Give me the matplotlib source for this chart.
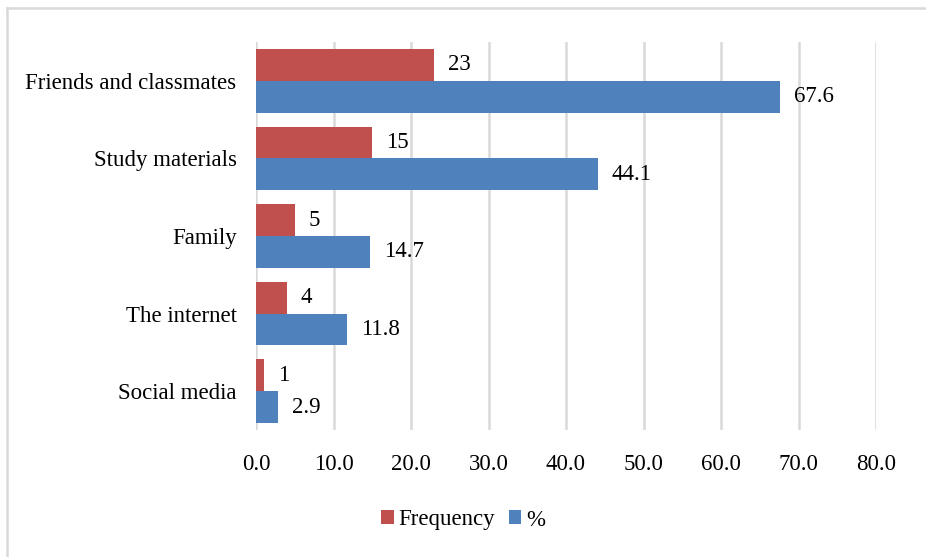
import numpy as np
import matplotlib
matplotlib.use("Agg")
from matplotlib import pyplot as plt
from matplotlib.lines import Line2D

plt.rcParams['font.family'] = ['Liberation Serif', 'DejaVu Serif']

# Data
categories = ["Friends and classmates", "Study materials", "Family",
              "The internet", "Social media"]
frequency = [23, 15, 5, 4, 1]
percent = [67.6, 44.1, 14.7, 11.8, 2.9]
xticks = [0, 10, 20, 30, 40, 50, 60, 70, 80]

red = "#C0504D"
blue = "#4F81BD"
grid_col = "#D9D9D9"
fs = 16.5

fig = plt.figure(figsize=(9.26, 5.57), dpi=100)
ax = fig.add_axes([256/926, 1 - 430/557, (876-256)/926, (430-42)/557])

y = np.arange(len(categories))
h = 0.41
ax.barh(y - h/2, frequency, height=h, color=red, label="Frequency")
ax.barh(y + h/2, percent, height=h, color=blue, label="%")

# value labels next to bars
for yi, v in zip(y, frequency):
    ax.annotate(str(v), (v, yi - h/2), xytext=(10, 0), textcoords="offset points",
                va="center", ha="left", fontsize=fs)
for yi, v in zip(y, percent):
    ax.annotate("%.1f" % v, (v, yi + h/2), xytext=(10, 0), textcoords="offset points",
                va="center", ha="left", fontsize=fs)

ax.set_xlim(0, 80)
ax.set_ylim(len(categories) - 0.5, -0.5)
ax.set_xticks(xticks)
ax.set_xticklabels(["%.1f" % t for t in xticks], fontsize=fs)
ax.set_yticks(y)
ax.set_yticklabels(categories, fontsize=fs)
ax.tick_params(axis='x', length=0, pad=17)
ax.tick_params(axis='y', length=0, pad=14)
ax.xaxis.grid(True, color=grid_col, linewidth=1.8)
ax.set_axisbelow(True)
for s in ax.spines.values():
    s.set_visible(False)

ax.legend(loc="center", bbox_to_anchor=(0.5, 1 - 520/557), bbox_transform=fig.transFigure,
          ncol=2, frameon=False, fontsize=fs, handlelength=0.55, handleheight=0.55,
          handletextpad=0.2, columnspacing=0.6)

# chart frame: only left and top edges show (image is cropped)
x0, y0 = 6.5/926, 1 - 7.5/557
fig.lines.append(Line2D([x0, x0], [0, y0], transform=fig.transFigure,
                        color=grid_col, linewidth=1.8))
fig.lines.append(Line2D([x0, 1], [y0, y0], transform=fig.transFigure,
                        color=grid_col, linewidth=1.8))

fig.savefig("out.png", dpi=100)
